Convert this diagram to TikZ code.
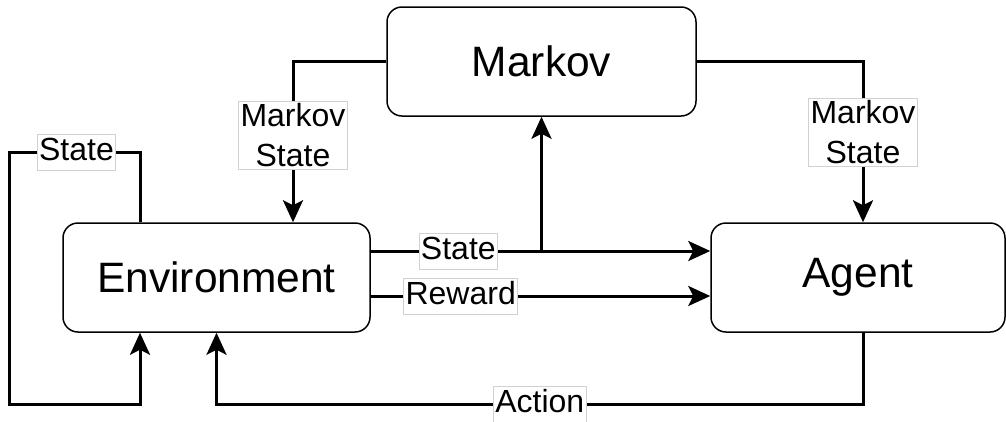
\documentclass[tikz,border=0pt]{standalone}
\usepackage{fontspec}
\setmainfont{Liberation Sans}
\usepackage{tikz}
\usetikzlibrary{arrows.meta}

\tikzset{
  block/.style={draw, rounded corners=15pt, line width=1.5pt, fill=white,
    minimum height=109pt, font=\fontsize{42.5pt}{50pt}\selectfont},
  lbl/.style={draw=black!18, fill=white, line width=0.8pt, inner xsep=2pt, inner ysep=2pt,
    text height=24pt, text depth=8pt, font=\fontsize{32pt}{40pt}\selectfont},
  lbltwo/.style={lbl, align=center, text height=, text depth=},
  arr/.style={line width=3pt, -{Stealth[length=22pt,width=20pt,inset=5pt]}},
  wire/.style={line width=3pt}
}

\begin{document}
\begin{tikzpicture}[x=1pt,y=-1pt]
        \useasboundingbox (0,0) rectangle (1006,421);
        \node[block, minimum width=307pt] (env) at (216.5,277.5) {Environment};
        \node[block, minimum width=294pt] (agent) at (858,277.5) {Agent};
        \node[block, minimum width=309pt] (markov) at (541.5,61.5) {Markov};
        \coordinate (st) at (0,251);
        \coordinate (rw) at (0,296);
        \coordinate (ml) at (293,61.5);
        \coordinate (mr) at (863,61.5);
        \coordinate (lx) at (140,152);
        \coordinate (lp) at (9,152);
        \coordinate (lb) at (9,404);
        \coordinate (ab) at (863,404);
        % env to agent
        \draw[arr] (env.east |- st) -- node[lbl, pos=0.258] {State} (agent.west |- st);
        \draw[arr] (env.east |- rw) -- node[lbl, pos=0.265] {Reward} (agent.west |- rw);
        \draw[arr] (markov.south |- st) -- (markov.south);
        % markov state
        \draw[arr] (markov.west) -- (ml) -- node[lbltwo, pos=0.46] {Markov\\State} (ml |- env.north);
        \draw[arr] (markov.east) -- (mr) -- node[lbltwo, pos=0.44] {Markov\\State} (mr |- agent.north);
        % loops
        \draw[arr] (lx |- env.north) -- (lx) -- node[lbl, pos=0.485] {State} (lp) -- (lb) -- (lx |- lb) -- (lx |- env.south);
        \draw[arr] (ab |- agent.south) -- (ab) -- node[lbl] {Action} (env.south |- ab) -- (env.south);
\end{tikzpicture}
\end{document}
